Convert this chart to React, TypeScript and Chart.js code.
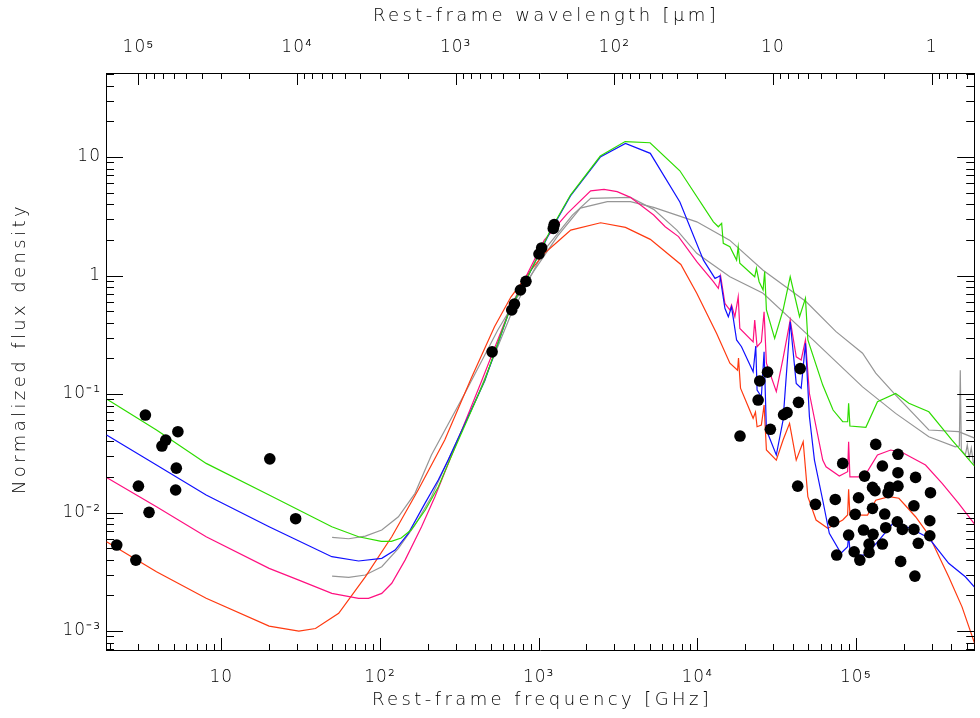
import React, { useEffect, useRef } from 'react';
import { Chart, registerables } from 'chart.js';

Chart.register(...registerables);

const FONT = '"DejaVu Sans", "Liberation Sans", sans-serif';

// ---- axis ranges ----
const X_MIN = 1.874; // GHz
const X_MAX = 5.57e5; // GHz
const Y_MIN = 6.92e-4;
const Y_MAX = 51.2;
const C_UM_GHZ = 3e5; // wavelength [um] = C / frequency [GHz]

// ---- tick labels ----
const xTickValues = [10, 100, 1000, 10000, 100000];
const xTickLabels = ['10', '10²', '10³', '10⁴', '10⁵'];
const topTickValues = [1, 10, 100, 1000, 10000, 100000];
const topTickLabels = ['1', '10', '10²', '10³', '10⁴', '10⁵'];
const yTickValues = [0.001, 0.01, 0.1, 1, 10];
const yTickLabels = ['10⁻³', '10⁻²', '10⁻¹', '1', '10'];

const xTitle = 'Rest-frame frequency [GHz]';
const topTitle = 'Rest-frame wavelength [μm]';
const yTitle = 'Normalized flux density';

// ---- model SEDs ----
const greenNu = [1.89, 3.9, 8.02, 20.0, 49.7, 73.3, 102, 118, 136, 157, 193, 233, 275, 457, 667, 853, 1189, 1588, 2448, 3510, 5040, 7770, 12640, 13580, 14250, 14590, 16060, 17700, 18120, 18550, 23030, 23600, 24550, 26000, 26610, 27290, 30760, 34750, 38550, 44150, 48100, 49800, 61800, 71800, 82600, 88700, 90000, 91700, 115600, 136800, 178100, 215800, 288400, 403600, 565000];
const greenF = [0.0908, 0.0497, 0.026, 0.01406, 0.00759, 0.00625, 0.00571, 0.00571, 0.00609, 0.00712, 0.0105, 0.0164, 0.0277, 0.131, 0.542, 0.971, 2.42, 4.78, 10.2, 13.5, 13.2, 7.66, 2.84, 2.58, 2.76, 1.87, 1.75, 1.35, 1.75, 1.27, 0.977, 1.15, 0.887, 0.755, 1.08, 0.512, 0.295, 0.512, 0.977, 0.449, 0.642, 0.286, 0.119, 0.0733, 0.0584, 0.0584, 0.0835, 0.0537, 0.0524, 0.0861, 0.101, 0.0835, 0.0709, 0.0409, 0.0243];

const blueNu = [1.89, 3.9, 8.02, 20.0, 49.7, 73.3, 102.6, 124.5, 151, 192, 233, 269, 457, 667, 853, 1189, 1588, 2448, 3527, 5058, 7770, 10940, 12940, 13580, 13900, 14940, 15700, 16450, 17700, 19010, 22500, 23380, 23830, 25360, 26380, 27290, 31500, 34750, 38550, 42070, 45200, 48100, 50950, 54800, 61800, 68000, 80500, 88700, 90000, 91700, 102500, 115600, 140000, 169800, 215800, 288400, 384600, 489600, 565000];
const blueF = [0.0451, 0.0252, 0.01406, 0.00759, 0.00424, 0.0039, 0.00411, 0.00483, 0.00667, 0.01196, 0.0188, 0.0277, 0.129, 0.542, 0.971, 2.38, 4.7, 10.0, 13.05, 10.75, 4.17, 1.35, 0.947, 0.977, 0.996, 0.529, 0.449, 0.545, 0.286, 0.251, 0.154, 0.254, 0.108, 0.0949, 0.227, 0.0497, 0.0306, 0.0603, 0.408, 0.123, 0.112, 0.268, 0.0643, 0.0277, 0.0127, 0.00667, 0.00453, 0.00514, 0.00646, 0.00483, 0.00438, 0.00438, 0.00586, 0.008, 0.00747, 0.00609, 0.00373, 0.00287, 0.00231];

const pinkNu = [1.89, 3.9, 8.02, 20.0, 30.8, 49.7, 73.3, 84.7, 102.6, 118.6, 143.9, 182.8, 222, 275, 439, 667, 1086, 1520, 2128, 2583, 3126, 3790, 5310, 6280, 7620, 9930, 12640, 13580, 14040, 14940, 16060, 16450, 17260, 18120, 18550, 22500, 23030, 23830, 25360, 26380, 27290, 31500, 34750, 38550, 42070, 45200, 48100, 50950, 61800, 64860, 78600, 88700, 90000, 91700, 112700, 136800, 165700, 196300, 274800, 349700, 444300, 565000];
const pinkF = [0.0198, 0.0112, 0.00625, 0.00338, 0.00269, 0.00208, 0.00189, 0.00189, 0.00208, 0.00253, 0.00397, 0.00759, 0.0136, 0.0277, 0.131, 0.542, 1.99, 3.35, 5.19, 5.34, 5.1, 4.57, 3.24, 2.58, 2.13, 1.31, 0.887, 0.78, 0.99, 0.582, 0.512, 0.564, 0.449, 0.662, 0.358, 0.276, 0.421, 0.251, 0.276, 0.495, 0.182, 0.105, 0.2, 0.421, 0.206, 0.194, 0.286, 0.101, 0.0277, 0.0243, 0.0203, 0.0221, 0.0396, 0.02, 0.02, 0.0306, 0.0337, 0.0321, 0.0252, 0.0176, 0.01196, 0.00785];

const redNu = [1.89, 3.9, 8.02, 20.0, 30.8, 39.2, 54.9, 80.8, 118.6, 174, 256, 376, 527, 670, 895, 1086, 1316, 1594, 2459, 3527, 5058, 7880, 9930, 13250, 16060, 17950, 18200, 18740, 22500, 23280, 23830, 25360, 26380, 27290, 31500, 34750, 38180, 42070, 46540, 49800, 56100, 66500, 82600, 88700, 90000, 91700, 118400, 133400, 161800, 186700, 237800, 288400, 384600, 466700, 565000];
const redF = [0.00567, 0.00316, 0.00189, 0.0011, 0.001, 0.00105, 0.00141, 0.00287, 0.00625, 0.0155, 0.0409, 0.136, 0.37, 0.662, 1.11, 1.54, 1.93, 2.42, 2.79, 2.55, 2.02, 1.24, 0.708, 0.325, 0.182, 0.159, 0.201, 0.112, 0.0624, 0.0705, 0.053, 0.0548, 0.0807, 0.0337, 0.0277, 0.0409, 0.0566, 0.0277, 0.0396, 0.0136, 0.00865, 0.00736, 0.00865, 0.00953, 0.0157, 0.00953, 0.00953, 0.0127, 0.0136, 0.0132, 0.00922, 0.00646, 0.00287, 0.0016, 0.00076];

const grayANu = [49.9, 63.5, 80.8, 102.6, 130.6, 166.2, 211, 343.6, 553, 853, 1316, 1834, 2710, 3790, 5310, 9930, 15990, 26000, 48620, 74960, 110200, 133400, 178100, 288400, 444300, 565000];
const grayAF = [0.00618, 0.00601, 0.00633, 0.00712, 0.00922, 0.01452, 0.0306, 0.102, 0.347, 0.916, 2.15, 3.71, 4.2, 4.2, 3.76, 2.84, 1.99, 1.11, 0.601, 0.336, 0.221, 0.15, 0.0981, 0.0497, 0.0481, 0.0423];

const grayBNu = [49.9, 63.5, 80.8, 102.6, 130.6, 166.2, 211, 269, 415, 667, 1086, 1633, 2128, 3790, 5310, 7440, 9930, 16060, 26000, 48620, 110200, 178100, 288400, 423600, 448900, 455100, 462000, 489600, 503700, 518300, 533800, 549500, 565000];
const grayBF = [0.00291, 0.00284, 0.00297, 0.00349, 0.00499, 0.00785, 0.0136, 0.0277, 0.0981, 0.464, 1.64, 3.24, 4.48, 4.57, 3.62, 2.42, 1.54, 0.977, 0.708, 0.325, 0.115, 0.0687, 0.0436, 0.0359, 0.0364, 0.159, 0.0337, 0.0306, 0.0371, 0.0288, 0.035, 0.0267, 0.0247];

// ---- observed photometry ----
const radioNu = [3.32, 5.32, 4.46, 4.22, 20.2, 5.2, 3.0, 5.15, 3.5, 29.4, 2.19, 2.89];
const radioF = [0.0665, 0.0481, 0.0409, 0.0364, 0.0284, 0.0237, 0.0167, 0.0155, 0.01004, 0.00887, 0.00532, 0.00397];
const submmNu = [509, 677, 704, 768, 832, 1005, 1045, 1237, 1254];
const submmF = [0.227, 0.512, 0.575, 0.755, 0.893, 1.52, 1.71, 2.5, 2.69];
const mirNu = [18600, 24200, 24770, 27740, 28900, 35000, 36820, 43460, 44570, 42980];
const mirF = [0.0442, 0.089, 0.129, 0.153, 0.0504, 0.0669, 0.0698, 0.0851, 0.164, 0.0167];
const nirNu = [55590, 74130, 82600, 72440, 90000, 75690, 97530, 105900, 133400, 113400, 146900, 184200, 184200, 184200, 237800, 127300, 132100, 163400, 159500, 295300, 103900, 127300, 99000, 152000, 232200, 292400, 154200, 182500, 196300, 232200, 292400, 111700, 128300, 121100, 146900, 247300, 121100, 191600, 235500];
const nirF = [0.01173, 0.0129, 0.026, 0.00836, 0.00646, 0.00438, 0.00467, 0.00397, 0.0376, 0.0203, 0.0247, 0.031, 0.0217, 0.0167, 0.0198, 0.0163, 0.0153, 0.0163, 0.0147, 0.0147, 0.01333, 0.01085, 0.00966, 0.00971, 0.0114, 0.00853, 0.00745, 0.00836, 0.00721, 0.00721, 0.00637, 0.00712, 0.00655, 0.00542, 0.00542, 0.0055, 0.00461, 0.00387, 0.00291];

const zip = (xs: number[], ys: number[]) => {
  const n = Math.min(xs.length, ys.length);
  const out: { x: number; y: number }[] = [];
  for (let i = 0; i < n; i++) out.push({ x: xs[i], y: ys[i] });
  return out;
};

const curve = (label: string, xs: number[], ys: number[], color: string) => ({
  label,
  data: zip(xs, ys),
  showLine: true,
  borderColor: color,
  backgroundColor: color,
  borderWidth: 1.2,
  pointRadius: 0,
  pointHoverRadius: 0,
  tension: 0,
  xAxisID: 'x',
  yAxisID: 'y',
});

const fixedTicks = (values: number[]) => ({
  afterBuildTicks: (s: any) => {
    s.ticks = values.map((v) => ({ value: v }));
  },
});

const labelFor = (values: number[], labels: string[]) => (v: any) => {
  const n = Number(v);
  const i = values.findIndex((t) => Math.abs(t - n) / t < 1e-6);
  return i >= 0 ? labels[i] : '';
};

const tickFont = { family: FONT, size: 17, weight: 200 as any };

const axisDecor = {
  id: 'axisDecor',
  beforeDraw(chart: any) {
    chart.ctx.letterSpacing = '1px';
  },
  afterDraw(chart: any) {
    const { ctx, chartArea: a, scales } = chart;
    ctx.save();
    ctx.strokeStyle = '#000';
    ctx.lineWidth = 1;
    ctx.beginPath();
    const each = (scale: any, fn: (p: number, major: boolean) => void) => {
      const lo = Math.min(scale.min, scale.max);
      const hi = Math.max(scale.min, scale.max);
      for (let e = Math.floor(Math.log10(lo)); e <= Math.ceil(Math.log10(hi)); e++) {
        for (let k = 1; k <= 9; k++) {
          const v = k * Math.pow(10, e);
          if (v < lo || v > hi) continue;
          fn(Math.round(scale.getPixelForValue(v)) + 0.5, k === 1);
        }
      }
    };
    each(scales.x, (p, m) => { ctx.moveTo(p, a.bottom); ctx.lineTo(p, a.bottom - (m ? 12 : 6)); });
    each(scales.x2, (p, m) => { ctx.moveTo(p, a.top); ctx.lineTo(p, a.top + (m ? 12 : 6)); });
    each(scales.y, (p, m) => { ctx.moveTo(a.left, p); ctx.lineTo(a.left + (m ? 17 : 8), p); });
    each(scales.y2, (p, m) => { ctx.moveTo(a.right, p); ctx.lineTo(a.right - (m ? 17 : 8), p); });
    ctx.stroke();

    // axis titles
    ctx.fillStyle = '#000';
    ctx.letterSpacing = '3.4px';
    ctx.font = `200 18px ${FONT}`;
    ctx.textAlign = 'center';
    ctx.textBaseline = 'middle';
    const cx = (a.left + a.right) / 2;
    ctx.fillText(xTitle, cx + 2, chart.height - 18);
    ctx.fillText(topTitle, cx + 6, 16);
    ctx.translate(20, (a.top + a.bottom) / 2 - 13);
    ctx.rotate(-Math.PI / 2);
    ctx.fillText(yTitle, 0, 0);
    ctx.restore();
  },
};

export default function App() {
  const ref = useRef<HTMLCanvasElement>(null);
  useEffect(() => {
    if (!ref.current) return;
    const dots = [
      ...zip(radioNu, radioF),
      ...zip(submmNu, submmF),
      ...zip(mirNu, mirF),
      ...zip(nirNu, nirF),
    ];
    const chart = new Chart(ref.current, {
      type: 'scatter',
      data: {
        datasets: [
          {
            label: 'data',
            data: dots,
            pointRadius: 5.8,
            pointHoverRadius: 5.8,
            pointBackgroundColor: '#000',
            pointBorderWidth: 0,
            borderWidth: 0,
            xAxisID: 'x',
            yAxisID: 'y',
          } as any,
          curve('green', greenNu, greenF, '#2edc00'),
          curve('blue', blueNu, blueF, '#1010ff'),
          curve('pink', pinkNu, pinkF, '#ff1080'),
          curve('red', redNu, redF, '#ff3a10'),
          curve('grayA', grayANu, grayAF, '#969696'),
          curve('grayB', grayBNu, grayBF, '#969696'),
        ],
      },
      options: {
        animation: false,
        responsive: true,
        maintainAspectRatio: false,
        events: [],
        layout: { padding: 0 },
        plugins: { legend: { display: false }, tooltip: { enabled: false }, title: { display: false } },
        scales: {
          x: {
            type: 'logarithmic',
            position: 'bottom',
            min: X_MIN,
            max: X_MAX,
            ...fixedTicks(xTickValues),
            afterFit: (s: any) => { s.height = 68; },
            grid: { display: false, drawTicks: false },
            border: { display: true, color: '#000', width: 1 },
            ticks: { autoSkip: false, maxRotation: 0, padding: 17, color: '#000', font: tickFont, callback: labelFor(xTickValues, xTickLabels) },
          },
          x2: {
            type: 'logarithmic',
            position: 'top',
            reverse: true,
            min: C_UM_GHZ / X_MAX,
            max: C_UM_GHZ / X_MIN,
            ...fixedTicks(topTickValues),
            afterFit: (s: any) => { s.height = 73; },
            grid: { display: false, drawTicks: false },
            border: { display: true, color: '#000', width: 1 },
            ticks: { autoSkip: false, maxRotation: 0, padding: 15, color: '#000', font: tickFont, callback: labelFor(topTickValues, topTickLabels) },
          },
          y: {
            type: 'logarithmic',
            position: 'left',
            min: Y_MIN,
            max: Y_MAX,
            ...fixedTicks(yTickValues),
            afterFit: (s: any) => { s.width = 106; },
            grid: { display: false, drawTicks: false },
            border: { display: true, color: '#000', width: 1 },
            ticks: { autoSkip: false, padding: 5, color: '#000', font: tickFont, callback: labelFor(yTickValues, yTickLabels) },
          },
          y2: {
            type: 'logarithmic',
            position: 'right',
            min: Y_MIN,
            max: Y_MAX,
            ...fixedTicks(yTickValues),
            afterFit: (s: any) => { s.width = 1; },
            grid: { display: false, drawTicks: false },
            border: { display: true, color: '#000', width: 1 },
            ticks: { display: false },
          },
        },
      } as any,
      plugins: [axisDecor as any],
    });
    return () => chart.destroy();
  }, []);
  return (
    <div style={{ position: 'fixed', left: 0, top: 0, width: 980, height: 718, background: '#fff' }}>
      <canvas ref={ref} />
    </div>
  );
}
